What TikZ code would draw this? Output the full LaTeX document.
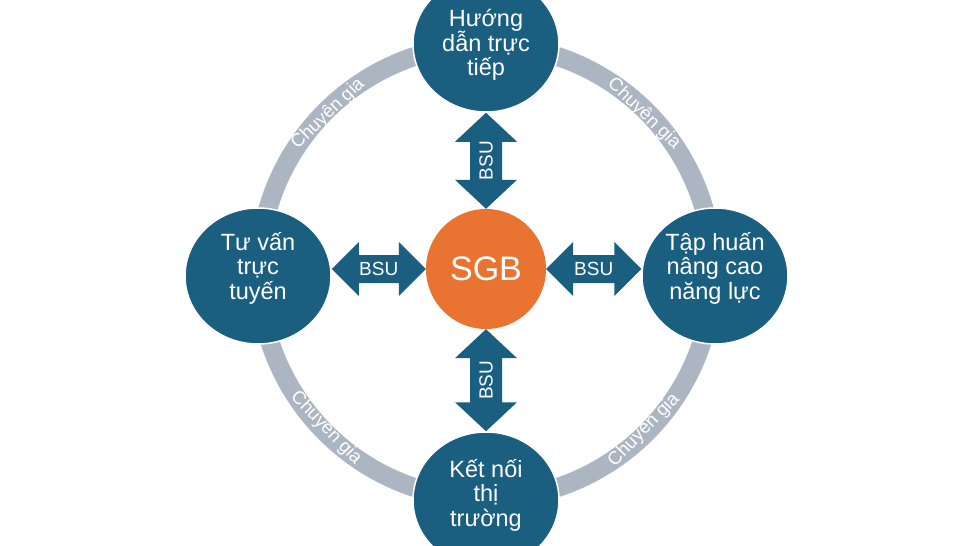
\documentclass[tikz,border=0pt]{standalone}
\usepackage{fontspec}
\setmainfont{Liberation Sans}
\usetikzlibrary{shapes.geometric,calc}

\definecolor{sgbblue}{RGB}{26,94,128}
\definecolor{sgborange}{RGB}{233,116,50}
\definecolor{ringgray}{RGB}{172,182,195}

\newcommand\hubfont{\fontsize{23.5}{24.5}\selectfont\lineskiplimit=-50pt}
\newcommand\bsulink[5]{%
	\fill[bsu] (#1) -- ($(#1)!#3!(#2)!#4!90:(#2)$) -- ($(#1)!#3!(#2)!#5!90:(#2)$)
	-- ($(#2)!#3!(#1)!#5!-90:(#1)$) -- ($(#2)!#3!(#1)!#4!-90:(#1)$) -- (#2)
	-- ($(#2)!#3!(#1)!#4!90:(#1)$) -- ($(#2)!#3!(#1)!#5!90:(#1)$)
	-- ($(#1)!#3!(#2)!#5!-90:(#2)$) -- ($(#1)!#3!(#2)!#4!-90:(#2)$) -- cycle;}

\begin{document}
\begin{tikzpicture}[x=1pt,y=-1pt,
	hub/.style={ellipse,fill=sgbblue,draw=white,line width=1.5pt,minimum width=146pt,minimum height=136pt,
		inner sep=0pt,text=white,align=center,font=\hubfont,text depth=21pt},
	bsu/.style={fill=sgbblue},
	bsutext/.style={text=white,font=\fontsize{19}{19}\selectfont,inner sep=0pt},
	expert/.style={text=white,font=\fontsize{18.5}{18.5}\selectfont,inner sep=0pt}]
	\clip (0,0) rectangle (980,546);
	\fill[white] (0,0) rectangle (980,546);

	\draw[ringgray,line width=19pt] (486,272) circle[radius=227pt];

	\node[hub,text depth=3pt] (huong) at (486,44) {Hướng\\dẫn trực\\tiếp};
	\node[hub] (tu) at (258,276) {Tư vấn\\trực\\tuyến};
	\node[hub] (tap) at (715,276) {Tập huấn\\nâng cao\\năng lực};
	\node[hub,text depth=15pt] (ket) at (486,500) {Kết nối\\thị\\trường};
	\node[circle,fill=sgborange,minimum size=120pt,inner sep=0pt,text=white,
		font=\fontsize{34}{34}\selectfont] (sgb) at (486,269) {SGB};

	\coordinate (lt) at (tu.east |- sgb.west);
	\coordinate (rt) at (tap.west |- sgb.east);
	\bsulink{sgb.west}{lt}{27pt}{27pt}{14pt}
	\bsulink{sgb.east}{rt}{27pt}{27pt}{14pt}
	\bsulink{sgb.north}{huong.south}{29pt}{31pt}{16pt}
	\bsulink{sgb.south}{ket.north}{29pt}{31pt}{16pt}

	\node[bsutext] (bsuL) at ($(sgb.west)!0.5!(lt)$) {BSU};
	\node[bsutext] (bsuR) at ($(sgb.east)!0.5!(rt)$) {BSU};
	\node[bsutext,rotate=90] (bsuT) at ($(sgb.north)!0.5!(huong.south)$) {BSU};
	\node[bsutext,rotate=90] (bsuB) at ($(sgb.south)!0.5!(ket.north)$) {BSU};

	\node[expert,rotate=44] (cgTL) at (328,114) {Chuyên gia};
	\node[expert,rotate=-44] (cgTR) at (644,114) {Chuyên gia};
	\node[expert,rotate=-46] (cgBL) at (326,428) {Chuyên gia};
	\node[expert,rotate=46] (cgBR) at (644,430) {Chuyên gia};
\end{tikzpicture}
\end{document}
